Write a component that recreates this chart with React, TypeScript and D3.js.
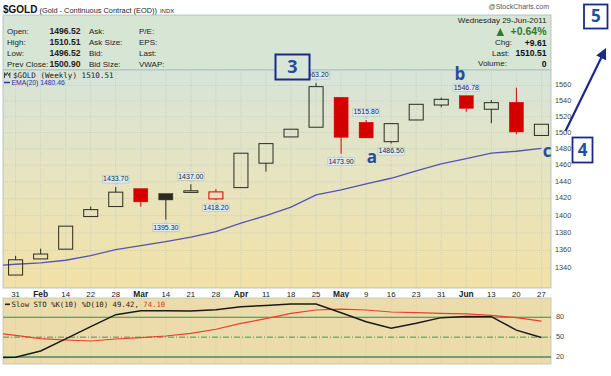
import React from 'react';
import * as d3 from 'd3';

// ---------- data ----------
const weekLabels = ['31', 'Feb', '14', '22', '28', 'Mar', '14', '21', '28', 'Apr', '11', '18', '25', 'May', '9', '16', '23', '31', 'Jun', '13', '20', '27'];
const monthNames = ['Feb', 'Mar', 'Apr', 'May', 'Jun'];
const opens = [1332.5, 1350.5, 1361.5, 1398.9, 1410.6, 1431.8, 1425.9, 1428.2, 1419.6, 1433.0, 1462.4, 1494.7, 1506.8, 1544.8, 1513.0, 1488.8, 1515.9, 1534.9, 1546.78, 1529.5, 1538.4, 1496.52];
const highs = [1354.0, 1362.0, 1387.8, 1410.6, 1433.7, 1431.8, 1425.9, 1437.0, 1431.2, 1474.6, 1486.4, 1504.3, 1563.2, 1544.8, 1515.8, 1511.3, 1535.8, 1544.3, 1546.78, 1541.3, 1557.2, 1510.51];
const lows = [1332.5, 1350.5, 1361.5, 1398.9, 1410.6, 1410.6, 1395.3, 1428.2, 1418.2, 1433.0, 1452.2, 1494.7, 1506.8, 1473.9, 1493.5, 1486.5, 1515.9, 1532.0, 1526.4, 1511.8, 1498.0, 1496.52];
const closes = [1349.5, 1356.0, 1387.8, 1407.0, 1427.6, 1416.1, 1418.4, 1429.2, 1427.9, 1474.6, 1486.4, 1504.3, 1558.5, 1494.3, 1493.5, 1511.3, 1535.8, 1542.2, 1530.7, 1537.9, 1500.9, 1510.51];
const prevWeekClose = 1340;
// EMA(20): first value belongs to the week before the first candle
const ema20 = [1342.5, 1344.5, 1346.0, 1349.0, 1354.3, 1361.0, 1365.6, 1370.0, 1375.2, 1381.6, 1391.3, 1400.0, 1409.9, 1424.4, 1430.3, 1437.4, 1444.2, 1453.0, 1461.5, 1468.0, 1474.6, 1477.0, 1480.46];
// Slow stochastics (first value = previous week)
const stoK = [19.0, 19.6, 29.0, 47.5, 66.0, 84.0, 89.8, 89.8, 89.5, 91.5, 96.0, 98.0, 100.0, 100.0, 87.0, 73.4, 63.4, 71.0, 79.5, 81.3, 81.0, 60.6, 49.42];
const stoD = [56.8, 52.8, 47.7, 45.7, 44.2, 47.2, 49.2, 51.7, 55.8, 61.9, 70.9, 77.9, 86.0, 91.0, 92.5, 91.0, 88.0, 87.0, 86.0, 85.2, 83.0, 79.4, 74.10];
const priceTicks = [1340, 1360, 1380, 1400, 1420, 1440, 1460, 1480, 1500, 1520, 1540, 1560];
const stoTicks = [20, 50, 80];
// price callouts: candle index and which extreme
const calloutIdx = [4, 6, 7, 8, 12, 13, 14, 15, 18];
const calloutSide = ['high', 'low', 'high', 'low', 'high', 'low', 'high', 'low', 'high'];
const headerLeftLabels = ['Open:', 'High:', 'Low:', 'Prev Close:'];
const headerLeftValues = ['1496.52', '1510.51', '1496.52', '1500.90'];
const headerMidLabels = ['Ask:', 'Ask Size:', 'Bid:', 'Bid Size:'];
const headerRightLabels = ['P/E:', 'EPS:', 'Last:', 'VWAP:'];

// ---------- layout ----------
const W = 611, H = 376;
const L = 3, R = 551;
const headTop = 15, chartTop = 70, chartBottom = 288, stoTop = 298, stoBottom = 364;
const SANS = 'Arial, "Liberation Sans", sans-serif';
const MONO = '"DejaVu Sans Mono", "Liberation Mono", monospace';
const NAVY = '#1b2a8a';
const ANN = '#1f4f9f';
const ANNFONT = "'Open Sans', Arial, sans-serif";

export default function App() {
  const x = d3.scaleLinear().domain([0, 21]).range([15.6, 541.4]);
  const step = x(1) - x(0);
  const bw = step * 0.56;
  const y = d3.scaleLog().domain([1340, 1560]).range([268.3, 85.5]);
  const ys = d3.scaleLinear().domain([20, 80]).range([357, 317.3]);

  const idxPrev = d3.range(-1, 22);
  const emaLine = d3.line<number>().x((_, i) => x(idxPrev[i])).y((v) => y(v))(ema20) || '';
  const kLine = d3.line<number>().x((_, i) => x(idxPrev[i])).y((v) => ys(v))(stoK) || '';
  const dLine = d3.line<number>().x((_, i) => x(idxPrev[i])).y((v) => ys(v))(stoD) || '';

  const candles = opens.map((o, i) => {
    const c = closes[i];
    const pc = i === 0 ? prevWeekClose : closes[i - 1];
    const color = c < pc ? '#d40000' : '#2a2a22';
    const filled = c < o;
    return { i, o, c, h: highs[i], l: lows[i], color, filled };
  });

  return (
    <svg width={W} height={H} style={{ position: 'absolute', left: 0, top: 0 }} fontFamily={SANS}>
      <defs>
        <linearGradient id="bgGrad" x1="0" y1="0" x2="0" y2="1">
          <stop offset="0" stopColor="#d6e4d9" />
          <stop offset="0.45" stopColor="#e6e4c2" />
          <stop offset="1" stopColor="#f2e1a6" />
        </linearGradient>
        <clipPath id="mainClip"><rect x={L} y={chartTop} width={R - L} height={chartBottom - chartTop} /></clipPath>
        <clipPath id="stoClip"><rect x={L} y={stoTop} width={R - L} height={stoBottom - stoTop} /></clipPath>
        <marker id="arrowHead" viewBox="0 0 10 10" refX="8" refY="5" markerWidth="5" markerHeight="5" orient="auto">
          <path d="M0,0 L10,5 L0,10 z" fill={NAVY} />
        </marker>
      </defs>
      <rect x={0} y={0} width={W} height={H} fill="#ffffff" />

      {/* Title */}
      <text x={3} y={12.5} fill="#222">
        <tspan fontSize={10} fontWeight="bold" fill="#111">$GOLD</tspan>
        <tspan fontSize={7.4} dx={2}>(Gold - Continuous Contract (EOD))</tspan>
        <tspan fontSize={6} dx={3}>INDX</tspan>
      </text>
      <text x={549} y={9} fontSize={7} fill="#555" textAnchor="end">@StockCharts.com</text>

      {/* Header panel */}
      <rect x={L} y={headTop} width={R - L} height={chartTop - headTop} fill="#d7e5d5" stroke="#a8bcbc" strokeWidth={0.8} />
      {headerLeftLabels.map((t, k) => {
        const yy = 31.7 + k * 10.9;
        return (
          <g key={t} fontSize={8} fill="#222">
            <text x={7} y={yy} dominantBaseline="middle">{t}</text>
            <text x={80.5} y={yy} dominantBaseline="middle" textAnchor="end" fontWeight="bold" fontSize={8.6}>{headerLeftValues[k]}</text>
            <text x={89} y={yy} dominantBaseline="middle">{headerMidLabels[k]}</text>
            <text x={139} y={yy} dominantBaseline="middle">{headerRightLabels[k]}</text>
          </g>
        );
      })}
      <text x={546.5} y={20.7} fontSize={8} fill="#222" textAnchor="end" dominantBaseline="middle">Wednesday  29-Jun-2011</text>
      <path d="M496.5,36 L500.3,28 L504.1,36 Z" fill="#2f7a2f" />
      <text x={546.5} y={32} fontSize={10.5} fill="#2f7a2f" fontWeight="bold" textAnchor="end" dominantBaseline="middle">+0.64%</text>
      <text x={495} y={43.3} fontSize={8} fill="#222" dominantBaseline="middle">Chg:</text>
      <text x={546.5} y={43.3} fontSize={8.6} fill="#111" fontWeight="bold" textAnchor="end" dominantBaseline="middle">+9.61</text>
      <text x={492} y={53.5} fontSize={8} fill="#222" dominantBaseline="middle">Last:</text>
      <text x={546.5} y={53.5} fontSize={8.6} fill="#111" fontWeight="bold" textAnchor="end" dominantBaseline="middle">1510.51</text>
      <text x={478} y={64.3} fontSize={8} fill="#222" dominantBaseline="middle">Volume:</text>
      <text x={546.5} y={64.3} fontSize={8.6} fill="#111" fontWeight="bold" textAnchor="end" dominantBaseline="middle">0</text>

      {/* Main panel */}
      <rect x={L} y={chartTop} width={R - L} height={chartBottom - chartTop} fill="url(#bgGrad)" stroke="#a8bcbc" strokeWidth={0.8} />
      <g clipPath="url(#mainClip)">
        {weekLabels.map((_, i) => (
          <line key={'vg' + i} x1={x(i)} x2={x(i)} y1={chartTop} y2={chartBottom} stroke="#b9c6bd" strokeWidth={0.6} strokeDasharray="1,1" />
        ))}
        {priceTicks.map((p) => (
          <line key={'hg' + p} x1={L} x2={R} y1={y(p)} y2={y(p)} stroke="#b9c6bd" strokeWidth={0.6} strokeDasharray="1,1" />
        ))}
        <path d={emaLine} fill="none" stroke="#5553b5" strokeWidth={1.3} />
        {candles.map((cd) => {
          const cx = x(cd.i);
          const top = y(Math.max(cd.o, cd.c));
          const bot = y(Math.min(cd.o, cd.c));
          const bh = Math.max(bot - top, 1.6);
          return (
            <g key={'c' + cd.i}>
              <line x1={cx} x2={cx} y1={y(cd.h)} y2={top} stroke={cd.color} strokeWidth={1} />
              <line x1={cx} x2={cx} y1={bot} y2={y(cd.l)} stroke={cd.color} strokeWidth={1} />
              <rect x={cx - bw / 2} y={top} width={bw} height={bh}
                fill={cd.filled ? cd.color : 'none'} stroke={cd.color} strokeWidth={cd.filled ? 0.5 : 1} />
            </g>
          );
        })}
      </g>
      {/* callouts */}
      {calloutIdx.map((ci, k) => {
        const isHigh = calloutSide[k] === 'high';
        const v = isHigh ? highs[ci] : lows[ci];
        const cx = x(ci);
        const bwc = 26.5, bhc = 7.6;
        const by = isHigh ? y(v) - 4 - bhc : y(v) + 4;
        const tipY = isHigh ? by + bhc + 2 : by - 2;
        const baseY = isHigh ? by + bhc : by;
        return (
          <g key={'co' + k}>
            <path d={`M${cx - 2},${baseY} L${cx},${tipY} L${cx + 2},${baseY} Z`} fill="#dfeaf0" stroke="#9fb4c0" strokeWidth={0.5} />
            <rect x={cx - bwc / 2} y={by} width={bwc} height={bhc} fill="#dfeaf0" stroke="#a8bcc8" strokeWidth={0.5} />
            <text x={cx} y={by + bhc / 2 + 0.3} fontSize={7} fill="#1a2a3a" textAnchor="middle" dominantBaseline="middle">{v.toFixed(2)}</text>
          </g>
        );
      })}
      {/* legends */}
      <path d="M4.5,72.5 l1.4,3 l1.4,-3 l1.4,3 l1.4,-3 M4.5,73 v5 M9.9,73 v5" stroke="#333" strokeWidth={0.9} fill="none" />
      <text x={13} y={75.8} fontSize={7.6} fontFamily={MONO} fill="#222" dominantBaseline="middle">$GOLD (Weekly) 1510.51</text>
      <line x1={4} x2={10} y1={82.5} y2={82.5} stroke="#3a3ab0" strokeWidth={1.6} />
      <text x={11.5} y={82.8} fontSize={6.8} fill="#2c2ca8" dominantBaseline="middle">EMA(20) 1480.46</text>

      {/* price axis */}
      {priceTicks.map((p) => (
        <text key={'pt' + p} x={555} y={y(p)} fontSize={7.3} fill="#444" dominantBaseline="middle">{p}</text>
      ))}

      {/* x axis labels */}
      {weekLabels.map((t, i) => (
        <text key={'xl' + i} x={x(i)} y={294.6} fontSize={monthNames.includes(t) ? 8.4 : 7.8}
          fontWeight={monthNames.includes(t) ? 'bold' : 'normal'} fill="#222" textAnchor="middle" dominantBaseline="middle">{t}</text>
      ))}

      {/* Stochastic panel */}
      <rect x={L} y={stoTop} width={R - L} height={stoBottom - stoTop} fill="#eddcab" stroke="#b8c4bc" strokeWidth={0.8} />
      <g clipPath="url(#stoClip)">
        {weekLabels.map((_, i) => (
          <line key={'svg' + i} x1={x(i)} x2={x(i)} y1={stoTop} y2={stoBottom} stroke="#d2c79e" strokeWidth={0.6} strokeDasharray="1,1" />
        ))}
        <line x1={L} x2={R} y1={ys(80)} y2={ys(80)} stroke="#3f8a45" strokeWidth={1.1} />
        <line x1={L} x2={R} y1={ys(20)} y2={ys(20)} stroke="#6e9e7c" strokeWidth={2.2} />
        <line x1={L} x2={R} y1={ys(50)} y2={ys(50)} stroke="#3f8a45" strokeWidth={0.9} strokeDasharray="6,2,1,2" />
        <path d={dLine} fill="none" stroke="#e8402c" strokeWidth={1.2} />
        <path d={kLine} fill="none" stroke="#1a1a1a" strokeWidth={1.5} />
      </g>
      <line x1={5} x2={10} y1={304.3} y2={304.3} stroke="#222" strokeWidth={1.6} />
      <text x={11.5} y={304.6} fontSize={7.3} fontFamily={MONO} fill="#222" dominantBaseline="middle">
        Slow STO %K(10) %D(10) 49.42, <tspan fill="#e03020">74.10</tspan>
      </text>
      {stoTicks.map((s) => (
        <text key={'st' + s} x={556} y={ys(s)} fontSize={7.3} fill="#444" dominantBaseline="middle">{s}</text>
      ))}

      {/* Annotations */}
      <rect x={275.5} y={54.5} width={34} height={25} fill="#d8e6d8" stroke={NAVY} strokeWidth={2} />
      <text x={292.5} y={68} fontSize={18} fontWeight="bold" fill={ANN} textAnchor="middle" dominantBaseline="middle" fontFamily={ANNFONT}>3</text>
      <rect x={572.5} y={137.5} width={20} height={25} fill="#ffffff" stroke={NAVY} strokeWidth={1.8} />
      <text x={582.5} y={151} fontSize={17} fontWeight="bold" fill={ANN} textAnchor="middle" dominantBaseline="middle" fontFamily={ANNFONT}>4</text>
      <rect x={584} y={4.5} width={23.5} height={24} fill="#ffffff" stroke={NAVY} strokeWidth={1.8} />
      <text x={595.8} y={17.5} fontSize={17} fontWeight="bold" fill={ANN} textAnchor="middle" dominantBaseline="middle" fontFamily={ANNFONT}>5</text>
      <line x1={565.5} y1={131} x2={605} y2={50} stroke={NAVY} strokeWidth={2.2} markerEnd="url(#arrowHead)" />
      <text x={372} y={158} fontSize={17} fontWeight="bold" fill={ANN} textAnchor="middle" dominantBaseline="middle" fontFamily={ANNFONT}>a</text>
      <text x={460} y={75} fontSize={17} fontWeight="bold" fill={ANN} textAnchor="middle" dominantBaseline="middle" fontFamily={ANNFONT}>b</text>
      <text x={547} y={152} fontSize={17} fontWeight="bold" fill={ANN} textAnchor="middle" dominantBaseline="middle" fontFamily={ANNFONT}>c</text>
    </svg>
  );
}
